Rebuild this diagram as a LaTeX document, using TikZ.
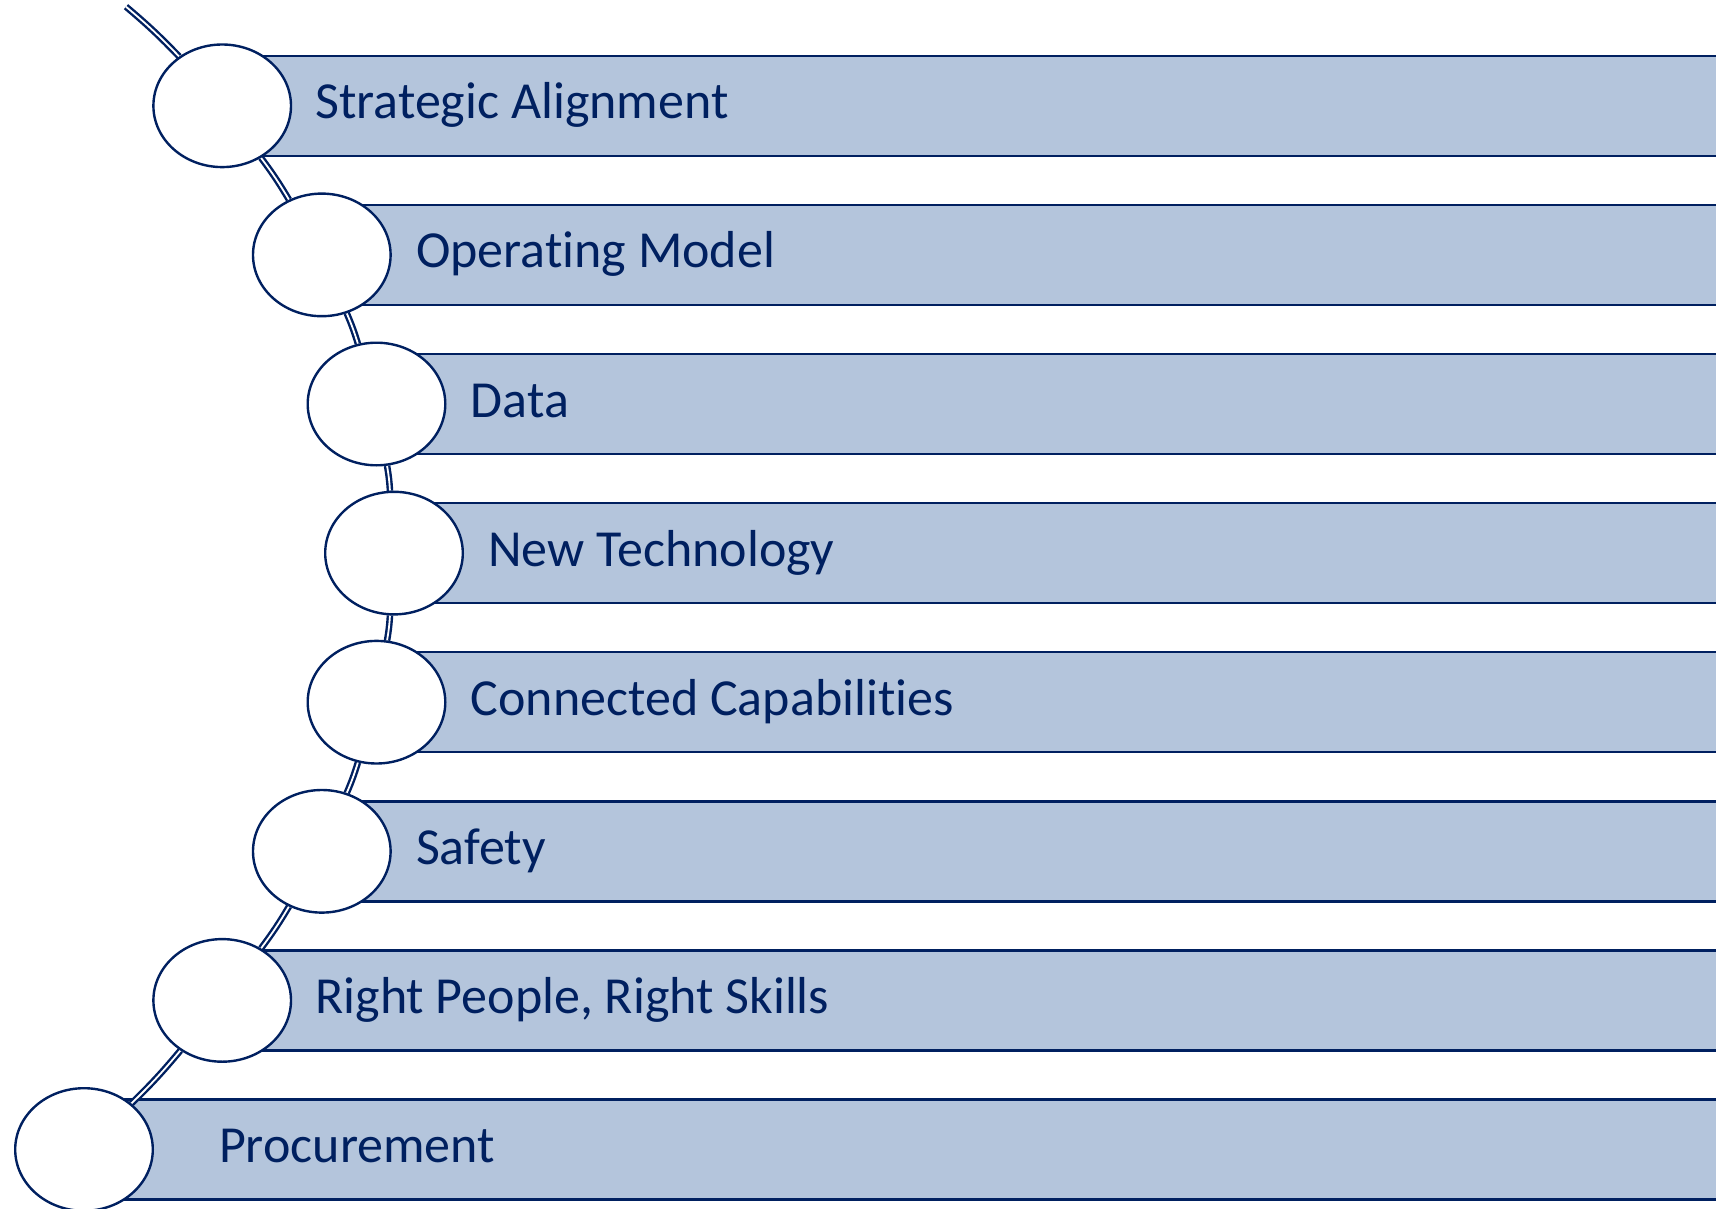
\documentclass[tikz,border=0pt]{standalone}
\usepackage{fontspec}
\setmainfont{Carlito}[Ligatures=NoCommon]
\usetikzlibrary{shapes.geometric}
\definecolor{navy}{RGB}{0,32,96}
\definecolor{barfill}{RGB}{180,197,220}
\tikzset{
  bar/.style={draw=navy, fill=barfill, line width=2.4pt},
  bead/.style={ellipse, draw=navy, fill=white, line width=2.4pt, minimum width=137.6pt, minimum height=122.6pt, inner sep=0pt},
  ghost/.style={bead, draw=none, fill=none},
  label/.style={anchor=base west, inner sep=0pt, text=navy, font=\fontsize{52}{62}\selectfont},
  link/.style={draw=navy, double=white, line width=2.4pt, double distance=1.8pt}
}
\begin{document}
\begin{tikzpicture}[x=1pt,y=-1pt]
\useasboundingbox (0,0) rectangle (1716,1209);
\clip (0,0) rectangle (1716,1209);
% bars
\foreach \k/\cx in {0/222.2,1/321.8,2/376.5,3/394.0,4/376.5,5/321.8,6/222.2,7/84}{
  \draw[bar] (\cx,55.8+149.1*\k) rectangle (1730,155.8+149.1*\k);
}
% bead positions
\path
  (222.2,105.8) coordinate (p1)
  (321.8,254.9) coordinate (p2)
  (376.5,404.0) coordinate (p3)
  (394.0,553.1) coordinate (p4)
  (376.5,702.2) coordinate (p5)
  (321.8,851.3) coordinate (p6)
  (222.2,1000.4) coordinate (p7)
  (84,1149.5) coordinate (p8);
\foreach \i in {1,...,8}{
  \node[ghost] (c\i) at (p\i) {};
}
\coordinate (top) at (126,6.7);
% links
\draw[link] (top) to[bend left=3] (c1);
\draw[link] (c1) to[bend left=3] (c2);
\draw[link] (c2) to[bend left=3] (c3);
\draw[link] (c3) to[bend left=3] (c4);
\draw[link] (c4) to[bend left=3] (c5);
\draw[link] (c5) to[bend left=3] (c6);
\draw[link] (c6) to[bend left=3] (c7);
\draw[link] (c7) to[bend left=3] (c8);
% visible beads
\foreach \i in {1,...,8}{
  \node[bead] at (p\i) {};
}
% labels
\node[label] (t1) at (315.2,105.8+13) {Strategic Alignment};
\node[label] (t2) at (415.9,254.9+13) {Operating Model};
\node[label] (t3) at (470.6,404.0+13) {Data};
\node[label] (t4) at (488.1,553.1+13) {New Technology};
\node[label] (t5) at (470.6,702.2+13) {Connected Capabilities};
\node[label] (t6) at (415.9,851.3+13) {Safety};
\node[label] (t7) at (315.2,1000.4+13) {Right People, Right Skills};
\node[label] (t8) at (218.9,1149.5+13) {Procurement};
\end{tikzpicture}
\end{document}
